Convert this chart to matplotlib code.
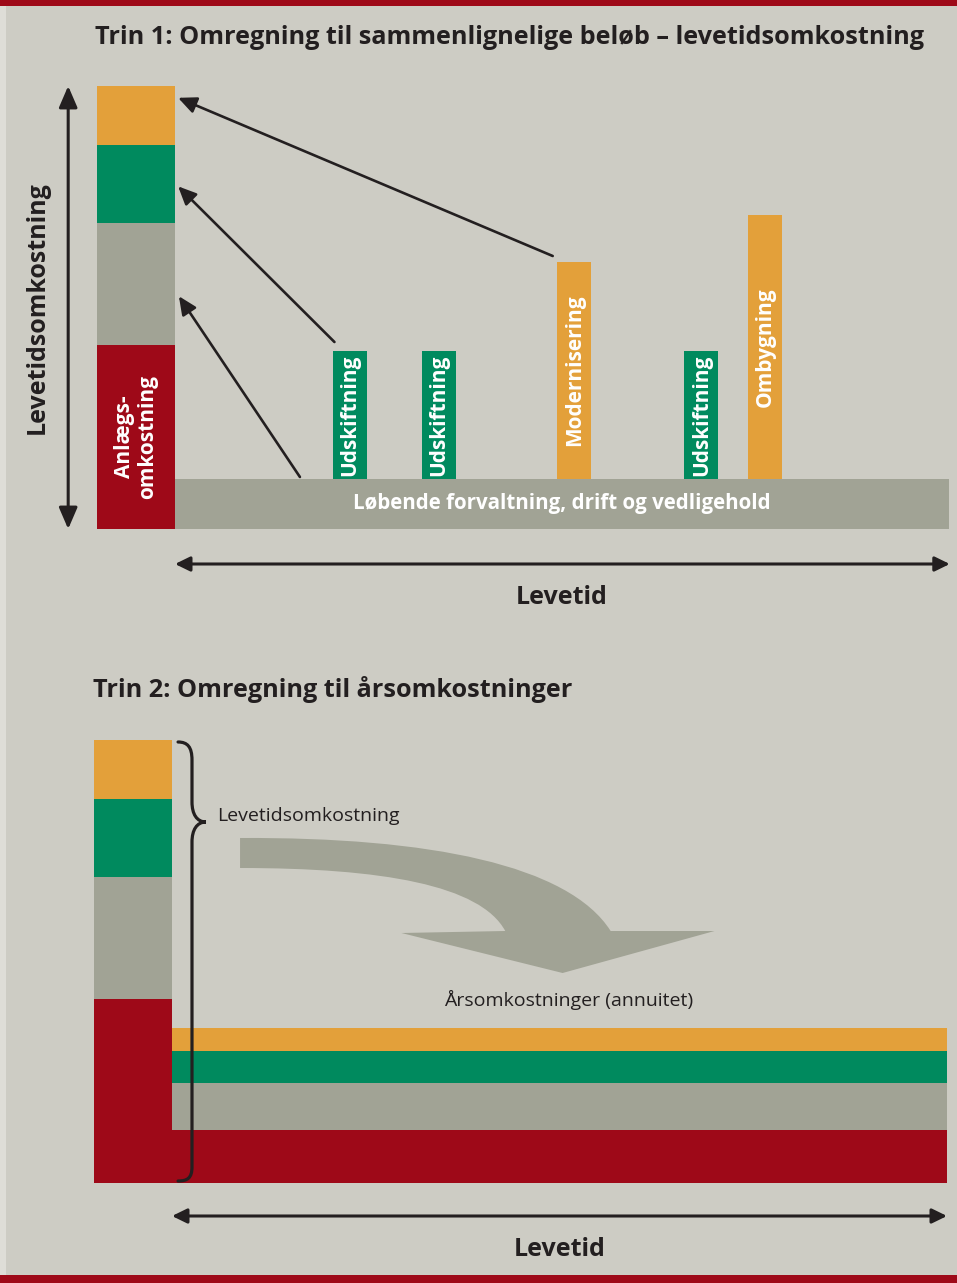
import matplotlib
matplotlib.use('Agg')
import matplotlib.pyplot as plt
from matplotlib.patches import Rectangle, PathPatch
from matplotlib.path import Path
import numpy as np

# colours
BG = '#CDCCC4'
RED = '#9E0918'
ORANGE = '#E3A03A'
GREEN = '#008A5E'
GREY = '#A1A395'
INK = '#231F20'

plt.rcParams['font.family'] = ['Open Sans', 'DejaVu Sans']

# ---- data (lifetime in years, costs in arbitrary units) ----
lifetime = 50
running_cost = 5.0
event_names = ['Udskiftning', 'Udskiftning', 'Modernisering', 'Udskiftning', 'Ombygning']
event_years = [11.3, 17.05, 25.8, 34.0, 38.1]
event_costs = [12.8, 12.8, 21.7, 12.8, 26.4]
event_colors = [GREEN, GREEN, ORANGE, GREEN, ORANGE]

pv_labels = ['Anlægs-\nomkostning', '', '', '']
pv_values = [18.4, 12.2, 7.8, 5.9]          # present value of each cost group
pv_colors = [RED, GREY, GREEN, ORANGE]
annuity_values = [5.3, 4.7, 3.2, 2.3]       # yearly cost of each group

W, H = 957, 1283
fig = plt.figure(figsize=(W / 100, H / 100), dpi=100)
fig.patch.set_facecolor(BG)

# red bands top and bottom + lighter strip on the left
fig.add_artist(Rectangle((0, 1 - 6 / H), 1, 6 / H, transform=fig.transFigure, color=RED, lw=0))
fig.add_artist(Rectangle((0, 0), 1, 8 / H, transform=fig.transFigure, color=RED, lw=0))
fig.add_artist(Rectangle((0, 8 / H), 6 / W, 1 - 14 / H, transform=fig.transFigure, color='#DEDDD7', lw=0))


def make_panel(top_px, bottom_px, zero_x_px, end_x_px, zero_y_px):
    px_per_year = (end_x_px - zero_x_px) / lifetime
    px_per_unit = 10.0
    ax = fig.add_axes([0, 1 - bottom_px / H, 1, (bottom_px - top_px) / H])
    ax.set_xlim(-zero_x_px / px_per_year, (W - zero_x_px) / px_per_year)
    ax.set_ylim(-(bottom_px - zero_y_px) / px_per_unit, (zero_y_px - top_px) / px_per_unit)
    ax.axis('off')
    return ax


bar_w = 5.04      # width of the stacked cost column (years)
event_w = 2.2     # width of the event bars (years)
total = sum(pv_values)
bottoms = np.concatenate([[0], np.cumsum(pv_values)[:-1]])

# ================= Trin 1 =================
fig.text(95 / W, 1 - 37 / H, 'Trin 1: Omregning til sammenlignelige beløb – levetidsomkostning',
         fontsize=18.2, fontweight='bold', color=INK, va='center', ha='left')

ax1 = make_panel(60, 620, 175, 949, 529)
ax1.bar(-bar_w / 2, pv_values, width=bar_w, bottom=bottoms, color=pv_colors, lw=0)
ax1.text(-bar_w / 2, pv_values[0] / 2, pv_labels[0], rotation=90, color='white',
         fontsize=15, fontweight='bold', ha='center', va='center', linespacing=1.15)

ax1.bar(lifetime / 2, running_cost, width=lifetime, color=GREY, lw=0)
ax1.text(lifetime / 2, running_cost / 2, 'Løbende forvaltning, drift og vedligehold',
         color='white', fontsize=14.8, fontweight='bold', ha='center', va='center')

ax1.bar(event_years, event_costs, width=event_w, bottom=running_cost, color=event_colors, lw=0)
for x, c, name in zip(event_years, event_costs, event_names):
    ax1.text(x, running_cost + c / 2, name, rotation=90, color='white', fontsize=15,
             fontweight='bold', ha='center', va='center')

# arrows from future costs to the present-value column
arrow_kw = dict(arrowstyle='-|>,head_length=0.55,head_width=0.25', color=INK, lw=1.9,
                mutation_scale=20, shrinkA=0, shrinkB=0)
ax1.annotate('', xy=(0.2, bottoms[3] + 0.8 * pv_values[3]),
             xytext=(event_years[2] - event_w / 2 - 0.3, running_cost + event_costs[2] + 0.6),
             arrowprops=arrow_kw)
ax1.annotate('', xy=(0.2, bottoms[2] + 0.47 * pv_values[2]),
             xytext=(event_years[0] - event_w / 2 + 0.1, running_cost + event_costs[0] + 0.9),
             arrowprops=arrow_kw)
ax1.annotate('', xy=(0.25, bottoms[1] + 0.4 * pv_values[1]),
             xytext=(8.07, running_cost + 0.2), arrowprops=arrow_kw)

dbl_kw = dict(arrowstyle='<|-|>,head_length=0.65,head_width=0.28', color=INK, lw=2.2,
              mutation_scale=20, shrinkA=0, shrinkB=0)
ax1.annotate('', xy=(-6.9, 0), xytext=(-6.9, total), arrowprops=dbl_kw)
ax1.text(-8.9, total / 2, 'Levetidsomkostning', rotation=90, fontsize=18, fontweight='bold',
         color=INK, ha='center', va='center')

hdbl_kw = dict(arrowstyle='<|-|>,head_length=0.45,head_width=0.22', color=INK, lw=2.2,
               mutation_scale=20, shrinkA=0, shrinkB=0)
ax1.annotate('', xy=(0, -3.5), xytext=(lifetime + 0.05, -3.5), arrowprops=hdbl_kw)
ax1.text(lifetime / 2, -6.9, 'Levetid', fontsize=18, fontweight='bold', color=INK,
         ha='center', va='center')

# ================= Trin 2 =================
fig.text(93 / W, 1 - 690 / H, 'Trin 2: Omregning til årsomkostninger',
         fontsize=18.2, fontweight='bold', color=INK, va='center', ha='left')

ax2 = make_panel(700, 1275, 172, 947, 1183)
abottoms = np.concatenate([[0], np.cumsum(annuity_values)[:-1]])
ax2.bar(lifetime / 2, annuity_values, width=lifetime, bottom=abottoms, color=pv_colors, lw=0)
ax2.bar(-bar_w / 2, pv_values, width=bar_w, bottom=bottoms, color=pv_colors, lw=0)

# curly brace around the lifetime cost
bx, btip = 1.29, 36.1
brace = Path([(0.39, total - 0.2), (1.0, total - 0.2), (bx, total - 0.7), (bx, total - 2.0),
              (bx, btip + 2.0),
              (bx, btip + 0.8), (1.6, btip), (2.19, btip),
              (1.6, btip), (bx, btip - 0.8), (bx, btip - 2.0),
              (bx, 1.6),
              (bx, 0.5), (1.0, 0.2), (0.39, 0.2)],
             [Path.MOVETO, Path.CURVE4, Path.CURVE4, Path.CURVE4,
              Path.LINETO,
              Path.CURVE4, Path.CURVE4, Path.CURVE4,
              Path.CURVE4, Path.CURVE4, Path.CURVE4,
              Path.LINETO,
              Path.CURVE4, Path.CURVE4, Path.CURVE4])
ax2.add_patch(PathPatch(brace, fill=False, ec=INK, lw=2.3, capstyle='round'))
ax2.text(2.9, 36.7, 'Levetidsomkostning', fontsize=14, color=INK, ha='left', va='center')

# big curved grey arrow
curve = Path([(4.39, 34.5),
              (16.6, 34.6), (25.6, 31.8), (28.3, 25.2),
              (35.0, 25.2), (25.2, 21.0), (14.8, 25.0), (21.5, 25.2),
              (19.9, 29.8), (13.5, 31.5), (4.39, 31.5),
              (4.39, 34.5)],
             [Path.MOVETO,
              Path.CURVE4, Path.CURVE4, Path.CURVE4,
              Path.LINETO, Path.LINETO, Path.LINETO, Path.LINETO,
              Path.CURVE4, Path.CURVE4, Path.CURVE4,
              Path.CLOSEPOLY])
ax2.add_patch(PathPatch(curve, fc=GREY, ec='none'))
ax2.text(25.6, 18.3, 'Årsomkostninger (annuitet)', fontsize=14, color=INK,
         ha='center', va='center')

ax2.annotate('', xy=(0, -3.3), xytext=(lifetime, -3.3), arrowprops=hdbl_kw)
ax2.text(lifetime / 2, -6.6, 'Levetid', fontsize=18, fontweight='bold', color=INK,
         ha='center', va='center')

fig.savefig('out.png', dpi=100, facecolor=BG)
